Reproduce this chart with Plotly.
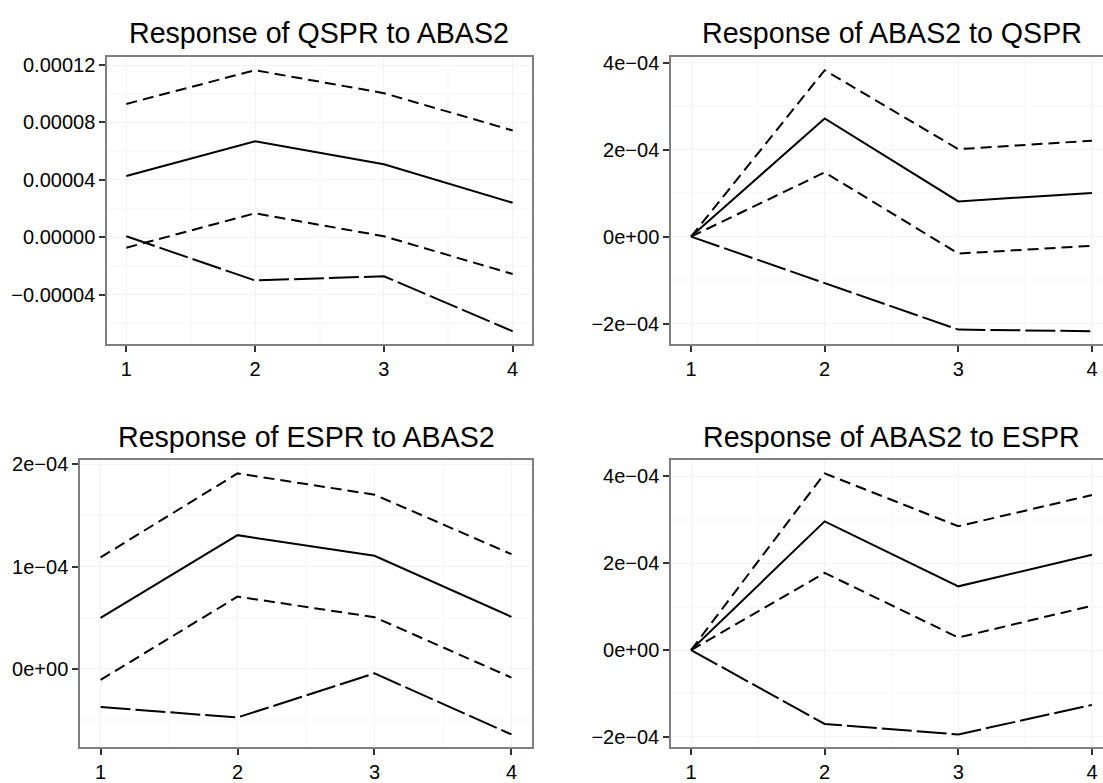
import plotly.graph_objects as go

# ---- data -----------------------------------------------------------------
steps = [1, 2, 3, 4]

# Response of QSPR to ABAS2
qspr_abas2_irf = [4.27e-5, 6.69e-5, 5.09e-5, 2.40e-5]
qspr_abas2_upper = [9.29e-5, 1.164e-4, 1.004e-4, 7.44e-5]
qspr_abas2_lower = [-0.73e-5, 1.67e-5, 0.07e-5, -2.56e-5]
qspr_abas2_alt = [0.07e-5, -3.01e-5, -2.72e-5, -6.55e-5]

# Response of ABAS2 to QSPR
abas2_qspr_irf = [0.0, 2.715e-4, 0.81e-4, 1.005e-4]
abas2_qspr_upper = [0.0, 3.825e-4, 2.01e-4, 2.205e-4]
abas2_qspr_lower = [0.0, 1.477e-4, -0.39e-4, -0.21e-4]
abas2_qspr_alt = [0.0, -1.072e-4, -2.137e-4, -2.175e-4]

# Response of ESPR to ABAS2
espr_abas2_irf = [0.498e-4, 1.307e-4, 1.105e-4, 0.508e-4]
espr_abas2_upper = [1.089e-4, 1.911e-4, 1.703e-4, 1.121e-4]
espr_abas2_lower = [-0.109e-4, 0.706e-4, 0.505e-4, -0.086e-4]
espr_abas2_alt = [-0.374e-4, -0.476e-4, -0.045e-4, -0.642e-4]

# Response of ABAS2 to ESPR
abas2_espr_irf = [0.0, 2.966e-4, 1.468e-4, 2.194e-4]
abas2_espr_upper = [0.0, 4.071e-4, 2.853e-4, 3.572e-4]
abas2_espr_lower = [0.0, 1.778e-4, 0.288e-4, 1.022e-4]
abas2_espr_alt = [0.0, -1.703e-4, -1.945e-4, -1.264e-4]

titles = [
    "Response of QSPR to ABAS2",
    "Response of ABAS2 to QSPR",
    "Response of ESPR to ABAS2",
    "Response of ABAS2 to ESPR",
]

x_ticks = [1, 2, 3, 4]
x_tick_labels = ["1", "2", "3", "4"]
x_minor = [1.5, 2.5, 3.5]

qspr_abas2_yticks = [-0.00004, 0.0, 0.00004, 0.00008, 0.00012]
qspr_abas2_ylabels = ["\u22120.00004", "0.00000", "0.00004", "0.00008", "0.00012"]
qspr_abas2_yminor = [-0.00006, -0.00002, 0.00002, 0.00006, 0.00010]

abas2_qspr_yticks = [-2e-4, 0.0, 2e-4, 4e-4]
abas2_qspr_ylabels = ["\u22122e\u221204", "0e+00", "2e\u221204", "4e\u221204"]
abas2_qspr_yminor = [-1e-4, 1e-4, 3e-4]

espr_abas2_yticks = [0.0, 1e-4, 2e-4]
espr_abas2_ylabels = ["0e+00", "1e\u221204", "2e\u221204"]
espr_abas2_yminor = [-0.5e-4, 0.5e-4, 1.5e-4]

abas2_espr_yticks = [-2e-4, 0.0, 2e-4, 4e-4]
abas2_espr_ylabels = ["\u22122e\u221204", "0e+00", "2e\u221204", "4e\u221204"]
abas2_espr_yminor = [-1e-4, 1e-4, 3e-4]

panels = [
    (qspr_abas2_irf, qspr_abas2_upper, qspr_abas2_lower, qspr_abas2_alt,
     qspr_abas2_yticks, qspr_abas2_ylabels, qspr_abas2_yminor),
    (abas2_qspr_irf, abas2_qspr_upper, abas2_qspr_lower, abas2_qspr_alt,
     abas2_qspr_yticks, abas2_qspr_ylabels, abas2_qspr_yminor),
    (espr_abas2_irf, espr_abas2_upper, espr_abas2_lower, espr_abas2_alt,
     espr_abas2_yticks, espr_abas2_ylabels, espr_abas2_yminor),
    (abas2_espr_irf, abas2_espr_upper, abas2_espr_lower, abas2_espr_alt,
     abas2_espr_yticks, abas2_espr_ylabels, abas2_espr_yminor),
]

# ---- layout geometry (pixels: left, top, right, bottom) --------------------
W, H = 1103, 783
boxes = [
    (107, 51, 532, 343),
    (671, 51, 1112, 343),
    (80, 461, 532, 753),
    (671, 461, 1112, 753),
]
title_y = [26, 26, 437, 437]

FONT = "Liberation Sans, Arial, Helvetica, sans-serif"
BORDER = "#7f7f7f"
GRID_MAJOR = "#f3f3f3"
GRID_MINOR = "#fafafa"
DASHED = "11px,6px"
LONGDASH = "30px,5px"

fig = go.Figure()
layout = dict(
    width=W, height=H,
    margin=dict(l=0, r=0, t=0, b=0),
    paper_bgcolor="white", plot_bgcolor="white",
    showlegend=False,
    font=dict(family=FONT, color="black"),
    annotations=[],
)


def expand(lo, hi, frac=0.05):
    pad = (hi - lo) * frac
    return lo - pad, hi + pad


for i, (irf, upper, lower, alt, yt, yl, ym) in enumerate(panels):
    n = i + 1
    xa = "x" if n == 1 else f"x{n}"
    ya = "y" if n == 1 else f"y{n}"
    left, top, right, bottom = boxes[i]

    x0, x1 = expand(min(steps), max(steps))
    # crop panels that run past the right edge of the canvas
    if right > W:
        x1 = x0 + (W - left) / (right - left) * (x1 - x0)
        dom_right = 1.0
    else:
        dom_right = right / W
    allv = irf + upper + lower + alt
    y0, y1 = expand(min(allv), max(allv))

    for vals, dash in ((alt, LONGDASH), (lower, DASHED), (upper, DASHED), (irf, "solid")):
        fig.add_trace(go.Scatter(
            x=steps, y=vals, mode="lines", xaxis=xa, yaxis=ya,
            line=dict(color="black", width=2, dash=dash),
            hoverinfo="skip",
        ))

    axis_common = dict(
        showline=True, linecolor=BORDER, linewidth=1.5,
        ticks="outside", ticklen=6, tickwidth=1.5, tickcolor="#333333",
        tickfont=dict(family=FONT, size=20, color="black"),
        showgrid=True, gridcolor=GRID_MAJOR, gridwidth=1,
        zeroline=False, tickmode="array",
    )
    layout["xaxis" if n == 1 else f"xaxis{n}"] = dict(
        axis_common,
        domain=[left / W, dom_right], anchor=ya, range=[x0, x1],
        tickvals=x_ticks, ticktext=x_tick_labels, mirror=True,
        minor=dict(tickmode="array", tickvals=x_minor, showgrid=True,
                   gridcolor=GRID_MINOR, gridwidth=1.5),
    )
    layout["yaxis" if n == 1 else f"yaxis{n}"] = dict(
        axis_common,
        domain=[1 - bottom / H, 1 - top / H], anchor=xa, range=[y0, y1],
        tickvals=yt, ticktext=yl, mirror=(right <= W),
        minor=dict(tickmode="array", tickvals=ym, showgrid=True,
                   gridcolor=GRID_MINOR, gridwidth=1.5),
    )
    layout["annotations"].append(dict(
        text=titles[i], xref="paper", yref="paper",
        x=(left + right) / 2 / W, y=1 - title_y[i] / H,
        xanchor="center", yanchor="middle", showarrow=False,
        font=dict(family=FONT, size=28.6, color="black"),
    ))

fig.update_layout(**layout)
fig.write_html("out.html")
